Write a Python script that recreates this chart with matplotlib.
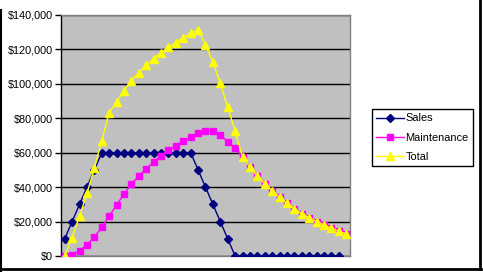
import matplotlib
matplotlib.use("Agg")
import matplotlib.pyplot as plt
import numpy as np
from matplotlib.ticker import FuncFormatter
from matplotlib.lines import Line2D

plt.rcParams['font.family'] = ['Liberation Sans', 'DejaVu Sans']

periods = list(range(1, 40))
sales = [10000, 20000, 30000, 40000, 50000, 60000, 60000, 60000, 60000, 60000,
         60000, 60000, 60000, 60000, 60000, 60000, 60000, 60000, 50000, 40000,
         30000, 20000, 10000, 0, 0, 0, 0, 0, 0, 0,
         0, 0, 0, 0, 0, 0, 0, 0, None]
maintenance = [0, 700, 3100, 6400, 11000, 16800, 23200, 29600, 36000, 41800,
               46500, 50700, 54700, 58200, 61300, 64000, 66900, 69300, 71500, 72600,
               72600, 70300, 66400, 62500, 57500, 51500, 46500, 42000, 38000, 34000,
               30500, 27500, 24500, 22300, 20000, 18000, 16100, 14400, 12800]
total = [0, 10700, 23100, 36400, 51000, 66800, 83200, 89600, 96000, 101800,
         106500, 110700, 114700, 118200, 121300, 124000, 126900, 129300, 131500, 122600,
         112600, 100300, 86400, 72500, 57500, 51500, 46500, 42000, 38000, 34000,
         30500, 27500, 24500, 22300, 20000, 18000, 16100, 14400, 12800]
yticks = [0, 20000, 40000, 60000, 80000, 100000, 120000, 140000]

W, H = 483, 272
fig = plt.figure(figsize=(W / 100, H / 100), dpi=100)
fig.patch.set_facecolor('white')

ax = fig.add_axes([61 / W, 1 - 256 / H, (350 - 61) / W, (256 - 15) / H])
ax.set_facecolor('#C0C0C0')

x = np.arange(len(periods))
s = np.array([np.nan if v is None else v for v in sales], dtype=float)

styles = [
    dict(color='#000080', marker='D', ms=4.0),
    dict(color='#FF00FF', marker='s', ms=4.4),
    dict(color='#FFFF00', marker='^', ms=5.4),
]
series = [s, maintenance, total]
labels = ['Sales', 'Maintenance', 'Total']
for i, (vals, st, lab) in enumerate(zip(series, styles, labels)):
    ax.plot(x, vals, color=st['color'], lw=1, marker=st['marker'], ms=st['ms'],
            mfc=st['color'], mec=st['color'], label=lab, zorder=3 + i)

ax.set_xlim(-0.5, len(periods) - 0.5)
ax.set_ylim(0, 140000)
ax.set_yticks(yticks)
ax.yaxis.set_major_formatter(FuncFormatter(lambda v, p: '${:,.0f}'.format(v)))
ax.set_xticks([])
ax.grid(axis='y', color='black', lw=1, zorder=1)
ax.set_axisbelow(True)
ax.tick_params(axis='y', length=4, width=1, color='black', labelsize=7.8, pad=2)
for sp in ax.spines.values():
    sp.set_color('#808080')
    sp.set_linewidth(1)
ax.spines['left'].set_color('black')

handles = [Line2D([], [], color=st['color'], lw=1, marker=st['marker'], ms=st['ms'],
                  mfc=st['color'], mec=st['color']) for st in styles]
leg = fig.legend(handles, labels,
                 loc='upper left', bbox_to_anchor=(372 / W, 1 - 109 / H),
                 bbox_transform=fig.transFigure, fontsize=7.9, frameon=True,
                 fancybox=False, edgecolor='black', framealpha=1,
                 handlelength=2.5, handletextpad=0.15, borderpad=0.4,
                 labelspacing=0.85, borderaxespad=0)
leg.get_frame().set_linewidth(1)

# outer chart frame
fig.add_artist(Line2D([1 / W, 1 / W], [0, 1 - 10 / H], color='black', lw=1.5,
                      transform=fig.transFigure))
fig.add_artist(Line2D([480 / W, 480 / W], [1 - 269 / H, 1], color='black', lw=2,
                      transform=fig.transFigure))
fig.add_artist(Line2D([0, 481 / W], [1 - 269 / H, 1 - 269 / H], color='black', lw=2,
                      transform=fig.transFigure))

fig.savefig('out.png', dpi=100, facecolor='white')
